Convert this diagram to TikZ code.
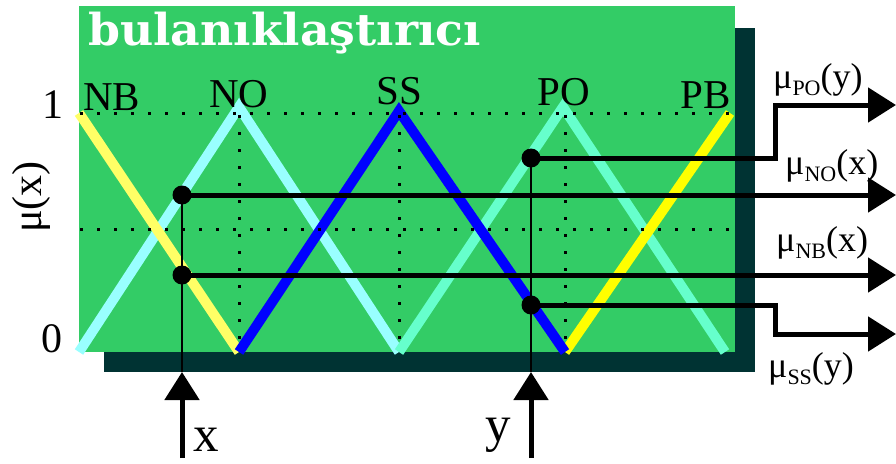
\documentclass[tikz,border=0pt]{standalone}
\usepackage{fontspec}
\setmainfont{Liberation Serif}
\newfontfamily\titlefont{DejaVu Serif}
\usepackage{tikz}
\usetikzlibrary{arrows.meta,positioning}

\definecolor{fuzzgreen}{HTML}{33CC66}
\definecolor{shadowdark}{HTML}{003333}
\definecolor{nbyellow}{HTML}{FFFF66}
\definecolor{pbyellow}{HTML}{FFFF00}
\definecolor{nocyan}{HTML}{99FFFF}
\definecolor{poaqua}{HTML}{66FFCC}
\definecolor{ssblue}{HTML}{0000FF}

\newcommand\musub[2]{μ\raisebox{-7pt}{\fontsize{22}{22}\selectfont #1}(#2)}

\begin{document}
\begin{tikzpicture}[x=1pt, y=-1pt,
  mf/.style={line width=10pt, line join=miter},
  gridline/.style={line width=3pt, dash pattern=on 3pt off 14pt},
  signal/.style={line width=5pt, line join=miter,
    -{Triangle[length=28pt, width=34pt]}},
  probe/.style={line width=1.3pt},
  hit/.style={circle, fill=black, minimum size=19pt, inner sep=0pt},
  mflbl/.style={font=\fontsize{41}{41}\selectfont, inner sep=0pt},
  axlbl/.style={font=\fontsize{42}{42}\selectfont, inner sep=0pt},
  iolbl/.style={font=\fontsize{51}{51}\selectfont, inner sep=0pt, text depth=0pt},
  mulbl/.style={font=\fontsize{36}{36}\selectfont, inner sep=0pt},
]
  \useasboundingbox (0,0) rectangle (896,463);

  % box with shadow
  \fill[shadowdark] (104,28) rectangle (755,372);
  \fill[fuzzgreen] (79,6) rectangle (735,352);
  \node[anchor=base west, text=white, inner sep=0pt, xscale=1.04,
    font={\titlefont\bfseries\fontsize{44}{44}\selectfont}] (title) at (88,45) {bulanıklaştırıcı};

  % membership functions
  \draw[mf, nocyan] (79,352) -- (239,107) -- (399,352);
  \draw[mf, poaqua] (399,352) -- (563,107) -- (725,352);
  \draw[mf, nbyellow] (79,113) -- (239,352);
  \draw[mf, pbyellow] (565,352) -- (730,113);
  \draw[mf, ssblue] (239,352) -- (399,111) -- (565,352);

  % dotted levels
  \draw[gridline] (80,113) -- (735,113);
  \draw[gridline] (80,229) -- (735,229);
  \foreach \gx in {239,399,565}
    \draw[gridline] (\gx,115) -- (\gx,352);

  % labels
  \node[mflbl, anchor=base west] (lblNB) at (83,110) {NB};
  \node[mflbl, anchor=base west] (lblNO) at (209,107) {NO};
  \node[mflbl, anchor=base west] (lblSS) at (376,104) {SS};
  \node[mflbl, anchor=base west] (lblPO) at (537,105) {PO};
  \node[mflbl, anchor=base west] (lblPB) at (680,108) {PB};
  \node[axlbl, anchor=base] (one) at (53,118) {1};
  \node[axlbl, anchor=base] (zero) at (52,352) {0};
  \node[axlbl, anchor=base, rotate=90] (muaxis) at (41,197) {μ(x)};

  % inputs and hits
  \coordinate (tipX) at (182,372);
  \coordinate (footX) at (182,458);
  \coordinate (tipY) at (531,372);
  \coordinate (footY) at (531,458);
  \node[hit] (hitNO) at (182,195) {};
  \node[hit] (hitNB) at (182,275) {};
  \node[hit] (hitPO) at (531,158) {};
  \node[hit] (hitSS) at (531,305) {};
  \draw[probe] (tipX) -- (hitNO.center);
  \draw[probe] (tipY) -- (hitPO.center);
  \draw[signal] (footX) -- (tipX);
  \draw[signal] (footY) -- (tipY);
  \node[iolbl, anchor=base west] (lblx) at (193,451) {x};
  \node[iolbl, anchor=base east] (lbly) at (511,441) {y};

  % outputs
  \coordinate (outPO) at (896,105);
  \coordinate (outNO) at (896,195);
  \coordinate (outNB) at (896,275);
  \coordinate (outSS) at (896,334);
  \draw[signal] (hitPO.center) -| ([xshift=-121pt]outPO) -- (outPO);
  \draw[signal] (hitNO.center) -- (outNO);
  \draw[signal] (hitNB.center) -- (outNB);
  \draw[signal] (hitSS.center) -| ([xshift=-121pt]outSS) -- (outSS);
  \node[mulbl, anchor=base west] (muPO) at (773,88) {\musub{PO}{y}};
  \node[mulbl, anchor=base west] (muNO) at (785,174) {\musub{NO}{x}};
  \node[mulbl, anchor=base west] (muNB) at (776,251) {\musub{NB}{x}};
  \node[mulbl, anchor=base west] (muSS) at (768,377) {\musub{SS}{y}};
\end{tikzpicture}
\end{document}
